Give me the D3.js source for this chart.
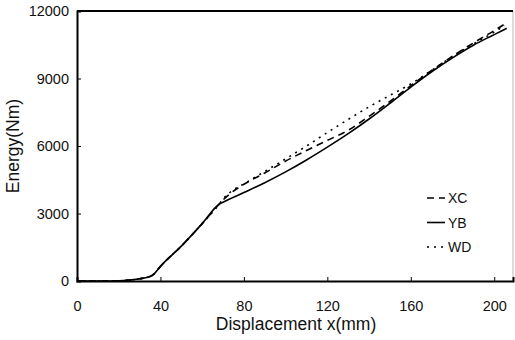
<!DOCTYPE html>
<html>
<head>
<meta charset="utf-8">
<script src="https://cdn.jsdelivr.net/npm/d3@7"></script>
<style>
  body { margin: 0; background: #fff; }
  text { font-family: "Liberation Sans", Arial, sans-serif; fill: #111; }
</style>
</head>
<body>
<div id="graf"></div>
<script>
// Datos (desplazamiento en mm, energía en Nm)
const xTicks = [0, 40, 80, 120, 160, 200];
const yTicks = [0, 3000, 6000, 9000, 12000];
const nombres = ["XC", "YB", "WD"];

const xc = [[0,0],[10,0],[20,10],[25,40],[30,100],[35,200],[37,320],[40,650],[50,1550],[60,2550],[68,3400],[70,3600],[73,3850],[80,4300],[90,4800],[100,5330],[110,5800],[120,6250],[130,6700],[140,7320],[150,7980],[160,8680],[170,9360],[180,9990],[190,10580],[200,11130],[205,11420]];
const yb = [[0,0],[10,0],[20,10],[25,40],[30,100],[35,200],[37,320],[40,650],[50,1550],[60,2550],[68,3400],[70,3500],[80,3930],[90,4370],[100,4850],[110,5380],[120,5950],[130,6550],[140,7200],[150,7900],[160,8620],[170,9300],[180,9920],[190,10480],[200,10950],[206,11230]];
const wd = [[0,0],[10,0],[20,10],[25,40],[30,100],[35,200],[37,320],[40,650],[50,1550],[60,2550],[68,3400],[70,3650],[75,4050],[80,4320],[90,4870],[100,5430],[110,6000],[120,6600],[130,7180],[140,7740],[150,8250],[160,8760],[170,9360],[180,9980],[190,10540],[200,11060],[205,11350]];

const series = [
  { name: "XC", data: xc, dash: "7,5" },
  { name: "YB", data: yb, dash: null },
  { name: "WD", data: wd, dash: "2,5" },
];

const anchoTotal = 515, altoTotal = 340;
const margins = { top: 11, right: 2, bottom: 59, left: 77 };
const ancho = anchoTotal - margins.left - margins.right;
const alto = altoTotal - margins.top - margins.bottom;

const svg = d3.select("#graf").append("svg")
  .attr("width", anchoTotal).attr("height", altoTotal);
const g = svg.append("g").attr("transform", `translate(${margins.left}, ${margins.top})`);

const x = d3.scaleLinear().domain([0, 209]).range([0, ancho]);
const y = d3.scaleLinear().domain([0, 12000]).range([alto, 0]);

// Marco
g.append("line").attr("x1", ancho).attr("x2", ancho).attr("y1", 0).attr("y2", alto)
  .attr("stroke", "#bbb").attr("stroke-width", 1);
g.append("line").attr("x1", 0).attr("x2", ancho).attr("y1", 0).attr("y2", 0)
  .attr("stroke", "#000").attr("stroke-width", 2);

// Ejes
const ejeX = g.append("g").attr("transform", `translate(0, ${alto})`)
  .call(d3.axisBottom(x).tickValues(xTicks).tickFormat(d3.format("d")).tickSize(-4).tickPadding(20));
const ejeY = g.append("g")
  .call(d3.axisLeft(y).tickValues(yTicks).tickFormat(d3.format("d")).tickSize(-4).tickPadding(8));
[ejeX, ejeY].forEach((e) => {
  e.select(".domain").attr("stroke", "#000").attr("stroke-width", 2);
  e.selectAll(".tick line").attr("stroke", "#000");
  e.selectAll("text").style("font-size", "14.5px").style("font-family", "'Liberation Sans', Arial, sans-serif");
});
ejeY.selectAll(".tick text").attr("x", -8);

// Curvas
const linea = d3.line().x((d) => x(d[0])).y((d) => y(d[1])).curve(d3.curveMonotoneX);
g.selectAll(".curva").data(series).enter().append("path")
  .attr("class", "curva")
  .attr("d", (d) => linea(d.data))
  .attr("fill", "none")
  .attr("stroke", "#000")
  .attr("stroke-width", 1.6)
  .attr("stroke-dasharray", (d) => d.dash);

// Leyenda
const leyenda = g.selectAll(".ley").data(series).enter().append("g")
  .attr("class", "ley")
  .attr("transform", (d, i) => `translate(${350}, ${187 + i * 24.5})`);
leyenda.append("line").attr("x1", 0).attr("x2", 18).attr("y1", 0).attr("y2", 0)
  .attr("stroke", "#000").attr("stroke-width", 1.6)
  .attr("stroke-dasharray", (d) => d.dash);
leyenda.append("text").attr("x", 21).attr("dy", "0.36em")
  .style("font-size", "14px").text((d) => d.name);

// Títulos
svg.append("text").attr("x", margins.left + 219).attr("y", 330)
  .attr("text-anchor", "middle").style("font-size", "17.5px")
  .text("Displacement x(mm)");
svg.append("text").attr("transform", `translate(19, ${margins.top + 135}) rotate(-90)`)
  .attr("text-anchor", "middle").style("font-size", "17.5px")
  .text("Energy(Nm)");
</script>
</body>
</html>
